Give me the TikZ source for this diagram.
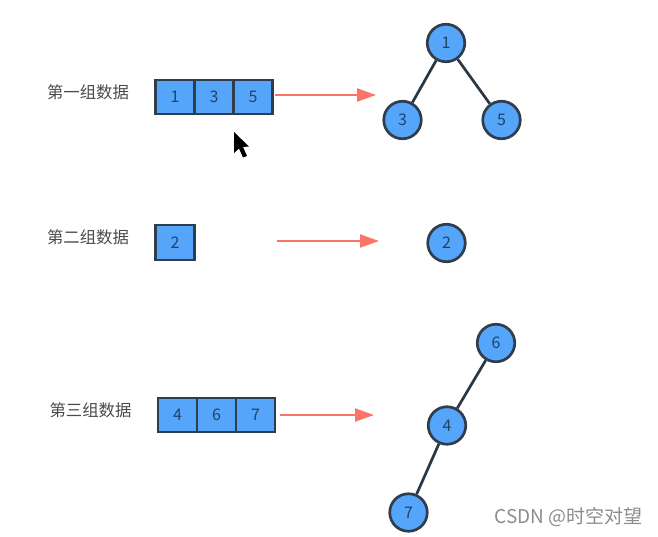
\documentclass[tikz,border=0pt]{standalone}
\usepackage{fontspec}
\setmainfont{Noto Sans CJK SC}
\usetikzlibrary{arrows.meta}
\definecolor{fillblue}{HTML}{55A5FB}
\definecolor{edgedark}{HTML}{2F3D4C}
\definecolor{arrowred}{HTML}{FB7468}
\definecolor{numblue}{HTML}{1F4468}
\definecolor{labelgrey}{HTML}{4A4A4A}
\tikzset{
  cell/.style={draw=edgedark,fill=fillblue,line width=2.3pt,minimum width=39pt,minimum height=34pt,inner sep=0pt,outer sep=0pt,text=numblue,font=\fontsize{16}{16}\selectfont},
  tree/.style={circle,draw=edgedark,fill=fillblue,line width=2.7pt,minimum size=37.5pt,inner sep=0pt,text=numblue,font=\fontsize{16}{16}\selectfont},
  link/.style={draw=edgedark!90!black,line width=2.7pt},
  flow/.style={draw=arrowred,line width=2.2pt,-{Triangle[length=19pt,width=13pt,fill=arrowred]}},
  grouplabel/.style={text=labelgrey,font=\fontsize{16.4}{16}\selectfont,inner sep=0pt},
  wmtext/.style={text=black!45,font=\fontsize{19}{19}\selectfont,inner sep=0pt}
}
\begin{document}
\begin{tikzpicture}[x=1pt,y=-1pt]
\useasboundingbox (0,0) rectangle (658,536);
% labels
\node[grouplabel] (l1) at (88,92.5) {第一组数据};
\node[grouplabel] (l2) at (88,237.5) {第二组数据};
\node[grouplabel] (l3) at (90.5,410.5) {第三组数据};
% row 1 cells
\node[cell] (a1) at (175,97) {1};
\node[cell] (a2) at (214,97) {3};
\node[cell] (a3) at (253,97) {5};
% row 2
\node[cell,minimum height=35pt] (b1) at (175,242.5) {2};
% row 3
\node[cell] (c1) at (177.5,415) {4};
\node[cell] (c2) at (216.5,415) {6};
\node[cell] (c3) at (255.5,415) {7};
% arrows
\coordinate (f1s) at (275,95);
\coordinate (f1e) at (376,95);
\coordinate (f2s) at (277,241);
\coordinate (f2e) at (379,241);
\coordinate (f3s) at (280,415);
\coordinate (f3e) at (374,415);
\draw[flow] (f1s) -- (f1e);
\draw[flow] (f2s) -- (f2e);
\draw[flow] (f3s) -- (f3e);
% trees
\node[tree] (t1) at (446,43) {1};
\node[tree] (t3) at (402.5,120) {3};
\node[tree] (t5) at (501.5,120) {5};
\node[tree] (t2) at (446.5,243) {2};
\node[tree] (t6) at (496,343) {6};
\node[tree] (t4) at (447,425.5) {4};
\node[tree] (t7) at (408.5,512.5) {7};
\draw[link] (t1) -- (t3);
\draw[link] (t1) -- (t5);
\draw[link] (t6) -- (t4);
\draw[link] (t4) -- (t7);
% cursor
\fill[black] (234,132) -- (234,153) -- (239,148.5) -- (243,157.5) -- (247,156) -- (243,147) -- (249,146.5) -- cycle;
% watermark
\node[wmtext,anchor=east] (wm) at (643,517) {CSDN @时空对望};
\end{tikzpicture}
\end{document}
